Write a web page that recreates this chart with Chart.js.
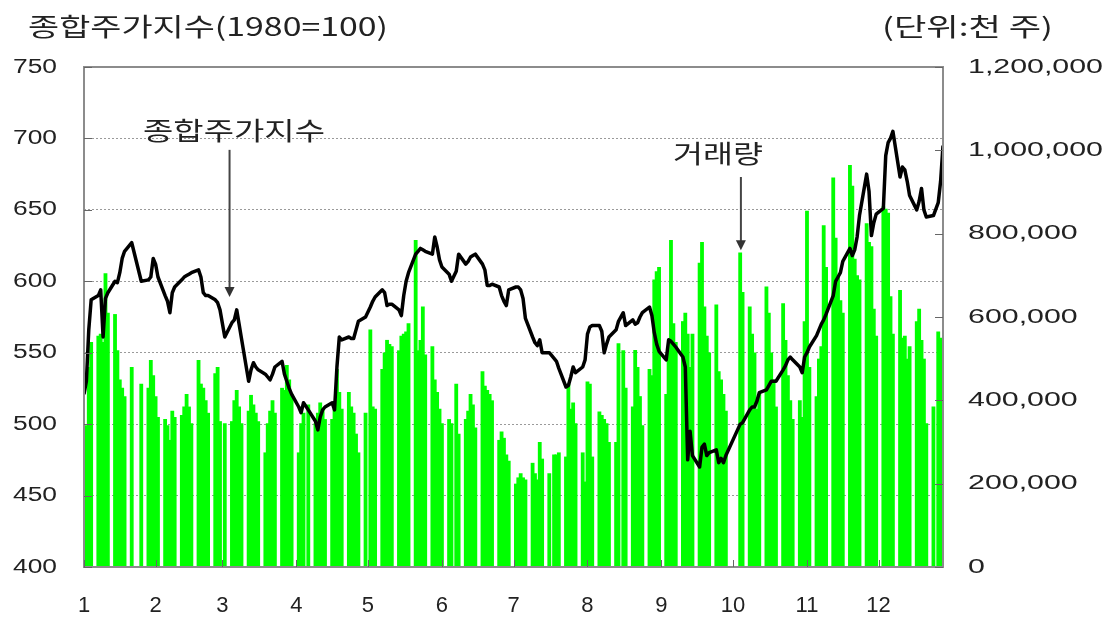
<!DOCTYPE html>
<html>
<head>
<meta charset="utf-8">
<script src="https://cdn.jsdelivr.net/npm/chart.js@4.4.1/dist/chart.umd.min.js"></script>
<style>
  html, body { margin: 0; padding: 0; background: #fff; }
</style>
</head>
<body>
<canvas id="chart" width="1113" height="623"></canvas>
<script>
// month labels and the day of year (2001) where each month starts on the axis
var monthLabels = ['1', '2', '3', '4', '5', '6', '7', '8', '9', '10', '11', '12'];
var monthStarts = [2, 32, 60, 91, 121, 152, 182, 213, 244, 274, 305, 335];

// market holidays (day of year), weekends are skipped too
var holidays = [1, 23, 24, 25, 60, 95, 121, 157, 198, 227, 274, 275, 276, 359, 365];

// KOSPI close, one value per trading day (one line per week)
var kospi = [
  521, 530, 566, 587,
  590, 594, 561, 588, 592,
  600, 599, 606, 616, 621,
  627, 600,
  601, 603, 616, 612, 603,
  590, 586, 578, 592, 596,
  601, 603, 604, 605, 606,
  608, 603, 592, 590, 590,
  587, 585, 580, 561,
  571, 573, 580, 570, 560,
  530, 538, 543, 540, 538,
  535, 533, 531, 535, 540,
  544, 535, 530, 525, 521,
  512, 508, 515, 510,
  502, 496, 505, 510, 512,
  515, 510, 540, 561, 559,
  561, 560, 560, 566, 572,
  575, 582, 586, 589,
  594, 592, 583, 584, 584,
  580, 576, 590, 600, 606,
  619, 621, 623, 622, 621,
  619, 631, 624, 615, 610,
  605, 600, 607, 619,
  612, 614, 617, 618, 619,
  612, 608, 597, 597, 598,
  596, 590, 586, 583, 594,
  596, 596, 594, 588, 574,
  561, 557, 555, 559, 550,
  550, 546, 544, 539,
  526, 527, 533, 540, 536,
  540, 545, 563, 568, 569,
  569, 565, 550, 556, 561,
  566, 572, 578, 569,
  573, 570, 571, 575, 578,
  582, 576, 564, 556, 551,
  545, 559, 558, 556, 554,
  547, 540, 475, 495, 478,
  470, 484, 486, 478, 480,
  482, 473, 476, 473, 478,
  500, 501,
  510, 512, 512, 516, 522,
  524, 527, 530, 530, 530,
  538, 541, 545, 547, 545,
  540, 536, 547, 550, 554,
  562, 566, 570, 573, 577,
  590, 600, 603, 606, 614,
  623, 618, 622, 631, 646,
  675, 663, 632, 641, 647,
  651, 688, 697, 700, 705,
  673, 680, 678, 670, 660,
  650, 656, 665, 650, 645,
  646, 655, 670, 695
];

// trading volume, thousands of (천 주), one value per trading day
var volumeK = [
  230, 340, 480, 540,
  555, 560, 540, 705, 610,
  607, 520, 450, 430, 410,
  480, 440,
  430, 497, 460, 410, 360,
  355, 340, 305, 375, 360,
  365, 385, 415, 385, 345,
  497, 440, 430, 400, 370,
  465, 480, 350, 345,
  350, 400, 425, 385, 345,
  375, 413, 390, 370, 350,
  275, 345, 375, 400, 370,
  430, 425, 485, 450, 415,
  275, 345, 370, 390,
  345, 370, 395, 380, 355,
  355, 380, 475, 420, 380,
  420, 385, 370, 320, 275,
  370, 570, 385, 380,
  475, 515, 545, 535, 530,
  520, 555, 560, 565, 585,
  785, 520, 545, 625, 510,
  530, 450, 420, 380, 345,
  355, 345, 440, 320,
  355, 375, 415, 390, 335,
  470, 435, 425, 415, 400,
  305, 325, 310, 270, 255,
  200, 215, 225, 215, 210,
  250, 225, 210, 300, 260,
  225, 270, 270, 275,
  265, 440, 380, 395, 345,
  275, 205, 445, 440, 265,
  373, 365, 355, 345, 300,
  300, 537, 520, 430,
  385, 521, 480, 410, 340,
  475, 460, 690, 710, 720,
  415, 520, 785, 585, 540,
  590, 610, 560, 480, 560,
  730, 780, 625, 555, 515,
  630, 470, 450, 415, 375,
  755, 660,
  625, 560, 515, 380, 415,
  673, 610, 515, 450, 385,
  633, 545, 460, 400, 355,
  400, 360, 590, 855, 480,
  410, 500, 530, 820, 720,
  935, 790, 700, 640, 610,
  965, 915, 740, 700, 690,
  825, 780, 770, 620, 555,
  865, 860, 850, 650, 560,
  665, 550, 555, 500, 530,
  590, 620, 545, 500, 345,
  385, 565, 550, 515
];

// trading days of 2001 (Jan 1 is a Monday)
var tradingDays = [];
for (var d = 2; d <= 362; d++) {
  var wd = (d - 1) % 7;
  if (wd < 5 && holidays.indexOf(d) < 0) tradingDays.push(d);
}

var kospiPts = tradingDays.map(function (d, i) { return { x: d, y: kospi[i] }; });
var volPts = tradingDays.map(function (d, i) { return { x: d, y: volumeK[i] * 1000 }; });

var tickFont = { family: '"Liberation Sans", Arial, sans-serif', size: 20 };
var monthFont = { family: '"Liberation Sans", Arial, sans-serif', size: 22 };

function fitText(ctx, text, left, cy, width, size) {
  ctx.save();
  ctx.font = size + 'px "Noto Sans CJK KR", sans-serif';
  ctx.textAlign = 'left';
  ctx.textBaseline = 'middle';
  var w = ctx.measureText(text).width;
  ctx.translate(left, cy);
  ctx.scale(width / w, 1);
  ctx.fillStyle = '#222';
  ctx.fillText(text, 0, 0);
  ctx.restore();
}

function arrow(ctx, x, y1, y2) {
  ctx.save();
  ctx.strokeStyle = '#444';
  ctx.fillStyle = '#333';
  ctx.lineWidth = 2;
  ctx.beginPath();
  ctx.moveTo(x, y1);
  ctx.lineTo(x, y2 - 8);
  ctx.stroke();
  ctx.beginPath();
  ctx.moveTo(x - 5, y2 - 10);
  ctx.lineTo(x + 5, y2 - 10);
  ctx.lineTo(x, y2);
  ctx.closePath();
  ctx.fill();
  ctx.restore();
}

// widen the tick labels of a y axis around the edge next to the plot
function stretchLabels(scale, sample, target, anchor) {
  if (scale._stretched) return;
  var orig = scale.drawLabels;
  scale.drawLabels = function (ca) {
    var ctx = this.ctx;
    ctx.save();
    ctx.font = tickFont.size + 'px ' + tickFont.family;
    var f = target / ctx.measureText(sample).width;
    var x0 = anchor(this);
    ctx.translate(x0, 0);
    ctx.scale(f, 1);
    ctx.translate(-x0, 0);
    orig.call(this, ca);
    ctx.restore();
  };
  scale._stretched = true;
}

var decorations = {
  id: 'decorations',
  beforeDraw: function (chart) {
    stretchLabels(chart.scales.y, '750', 44, function (s) { return s.right - s.options.ticks.padding; });
    stretchLabels(chart.scales.y2, '1,200,000', 135, function (s) { return s.left + s.options.ticks.padding; });
  },
  afterDraw: function (chart) {
    var ctx = chart.ctx;
    var a = chart.chartArea;
    var xs = chart.scales.x, ys = chart.scales.y, yr = chart.scales.y2;
    ctx.save();

    // frame
    ctx.strokeStyle = '#8c8c8c';
    ctx.lineWidth = 2;
    ctx.strokeRect(a.left, a.top, a.right - a.left, a.bottom - a.top);

    // small inner tick marks
    ctx.strokeStyle = '#666';
    ctx.lineWidth = 1;
    ys.ticks.forEach(function (t) {
      var y = Math.round(ys.getPixelForValue(t.value)) + 0.5;
      ctx.beginPath(); ctx.moveTo(a.left, y); ctx.lineTo(a.left + 8, y); ctx.stroke();
    });
    yr.ticks.forEach(function (t) {
      var y = Math.round(yr.getPixelForValue(t.value)) + 0.5;
      ctx.beginPath(); ctx.moveTo(a.right, y); ctx.lineTo(a.right - 8, y); ctx.stroke();
    });
    monthStarts.forEach(function (v) {
      var x = Math.round(xs.getPixelForValue(v)) + 0.5;
      ctx.beginPath(); ctx.moveTo(x, a.bottom); ctx.lineTo(x, a.bottom - 7); ctx.stroke();
    });
    ctx.restore();

    // titles
    fitText(ctx, '종합주가지수(1980=100)', 28, 26, 360, 25);
    fitText(ctx, '(단위:천 주)', 882, 26, 171, 25);

    // annotations
    fitText(ctx, '종합주가지수', 143, 130, 182, 25);
    arrow(ctx, xs.getPixelForValue(63), ys.getPixelForValue(692), ys.getPixelForValue(589));
    fitText(ctx, '거래량', 673, 153, 90, 25);
    arrow(ctx, xs.getPixelForValue(277.3), yr.getPixelForValue(936000), yr.getPixelForValue(760000));
  }
};

new Chart(document.getElementById('chart'), {
  type: 'bar',
  data: {
    datasets: [
      {
        type: 'line',
        label: '종합주가지수',
        data: kospiPts,
        yAxisID: 'y',
        borderColor: '#000',
        borderWidth: 3.5,
        borderJoinStyle: 'round',
        pointRadius: 0,
        tension: 0,
        order: 0
      },
      {
        type: 'bar',
        label: '거래량',
        data: volPts,
        yAxisID: 'y2',
        backgroundColor: '#00ff00',
        borderWidth: 0,
        barPercentage: 1.6,
        categoryPercentage: 1,
        order: 1
      }
    ]
  },
  options: {
    responsive: false,
    animation: false,
    layout: { padding: { top: 67, left: 0, right: 0, bottom: 0 } },
    plugins: { legend: { display: false }, tooltip: { enabled: false } },
    scales: {
      x: {
        type: 'linear',
        min: 2,
        max: 362,
        offset: false,
        afterBuildTicks: function (s) {
          s.ticks = monthStarts.map(function (v) { return { value: v }; });
        },
        ticks: {
          autoSkip: false,
          maxRotation: 0,
          padding: 26,
          color: '#222',
          font: monthFont,
          callback: function (v, i) { return monthLabels[i]; }
        },
        grid: { display: false, drawTicks: false },
        border: { display: false },
        afterFit: function (s) { s.height = 56; }
      },
      y: {
        position: 'left',
        min: 400,
        max: 750,
        ticks: { stepSize: 50, padding: 27, color: '#222', font: tickFont },
        grid: { color: '#9a9a9a', lineWidth: 1, drawTicks: false },
        border: { display: false, dash: [2, 2] },
        afterFit: function (s) { s.width = 84; }
      },
      y2: {
        position: 'right',
        min: 0,
        max: 1200000,
        ticks: {
          stepSize: 200000,
          padding: 25,
          color: '#222',
          font: tickFont,
          callback: function (v) { return v.toLocaleString('en-US'); }
        },
        grid: { display: false, drawTicks: false },
        border: { display: false },
        afterFit: function (s) { s.width = 170; }
      }
    }
  },
  plugins: [decorations]
});
</script>
</body>
</html>
